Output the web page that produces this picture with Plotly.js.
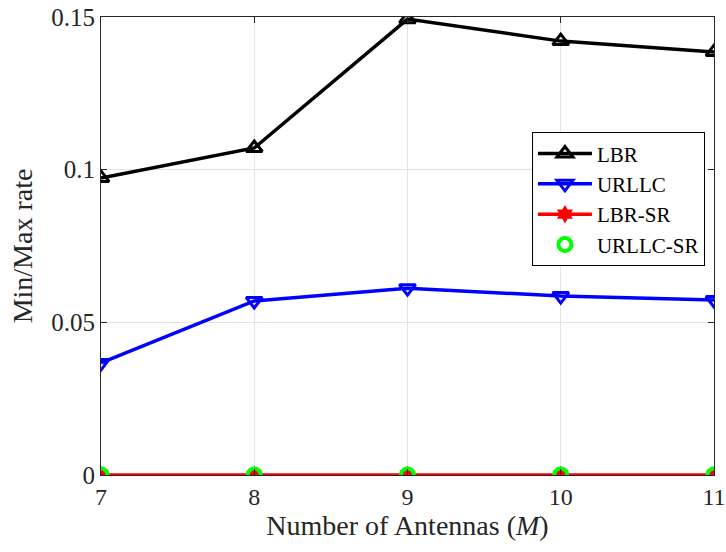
<!DOCTYPE html>
<html><head><meta charset="utf-8">
<script src="https://cdn.plot.ly/plotly-3.0.1.min.js"></script>
<style>body{margin:0;padding:0;background:#fff}#chart{width:726px;height:552px}</style>
</head><body><div id="chart"></div>
<script>
const antennas = [7, 8, 9, 10, 11];
const lbr = [0.0973, 0.1071, 0.1493, 0.1421, 0.1385];
const urllc = [0.0367, 0.0570, 0.0612, 0.0586, 0.0573];
const lbrSR = [0, 0, 0, 0, 0];
const urllcSR = [0, 0, 0, 0, 0];
const yTicks = [0, 0.05, 0.1, 0.15];
const yTickText = ['0', '0.05', '0.1', '0.15'];
const xTicks = [7, 8, 9, 10, 11];

const font = 'Liberation Serif, Times New Roman, serif';
const traces = [
  {x: antennas, y: lbr, name: 'LBR', mode: 'lines+markers',
   line: {color: '#000', width: 3.5},
   marker: {symbol: 'triangle-up-open', size: 14, color: '#000', line: {width: 3}}},
  {x: antennas, y: urllc, name: 'URLLC', mode: 'lines+markers',
   line: {color: '#0000ff', width: 3.5},
   marker: {symbol: 'triangle-down-open', size: 14, color: '#0000ff', line: {width: 3}}},
  {x: antennas, y: lbrSR, name: 'LBR-SR', mode: 'lines+markers',
   line: {color: '#ff0000', width: 3.5},
   marker: {symbol: 'hexagram', size: 14, color: '#ff0000', line: {width: 0}}},
  {x: antennas, y: urllcSR, name: 'URLLC-SR', mode: 'markers',
   marker: {symbol: 'circle-open', size: 13, color: '#00ff00', line: {width: 4}}}
];
const layout = {
  width: 726, height: 552,
  margin: {l: 101, r: 12, t: 17, b: 77},
  paper_bgcolor: '#fff', plot_bgcolor: '#fff',
  font: {family: font, size: 24, color: '#262626'},
  showlegend: true,
  legend: {x: 0.703, y: 0.748, xanchor: 'left', yanchor: 'top',
    bgcolor: '#fff', bordercolor: '#000', borderwidth: 1,
    font: {family: font, size: 21, color: '#000'}, itemwidth: 54, tracegroupgap: 0},
  xaxis: {range: [7, 11], tickvals: xTicks, ticktext: xTicks.map(String),
    showgrid: true, gridcolor: '#e3e3e3', gridwidth: 1, zeroline: false,
    showline: true, linecolor: '#262626', linewidth: 1, mirror: 'ticks',
    ticks: 'inside', ticklen: 6, tickcolor: '#262626', ticklabeloverflow: 'allow',
    tickfont: {family: font, size: 24, color: '#262626'},
    title: {text: 'Number of Antennas (<i>M</i>)', font: {family: font, size: 28, color: '#262626'}, standoff: 6}},
  yaxis: {range: [0, 0.15], tickvals: yTicks, ticktext: yTickText,
    showgrid: true, gridcolor: '#e3e3e3', gridwidth: 1, zeroline: false,
    showline: true, linecolor: '#262626', linewidth: 1, mirror: 'ticks',
    ticks: 'inside', ticklen: 6, tickcolor: '#262626',
    tickfont: {family: font, size: 25, color: '#262626'},
    title: {text: 'Min/Max rate', font: {family: font, size: 28, color: '#262626'}, standoff: 10}}
};
Plotly.newPlot('chart', traces, layout, {displayModeBar: false, staticPlot: true});
</script></body></html>
